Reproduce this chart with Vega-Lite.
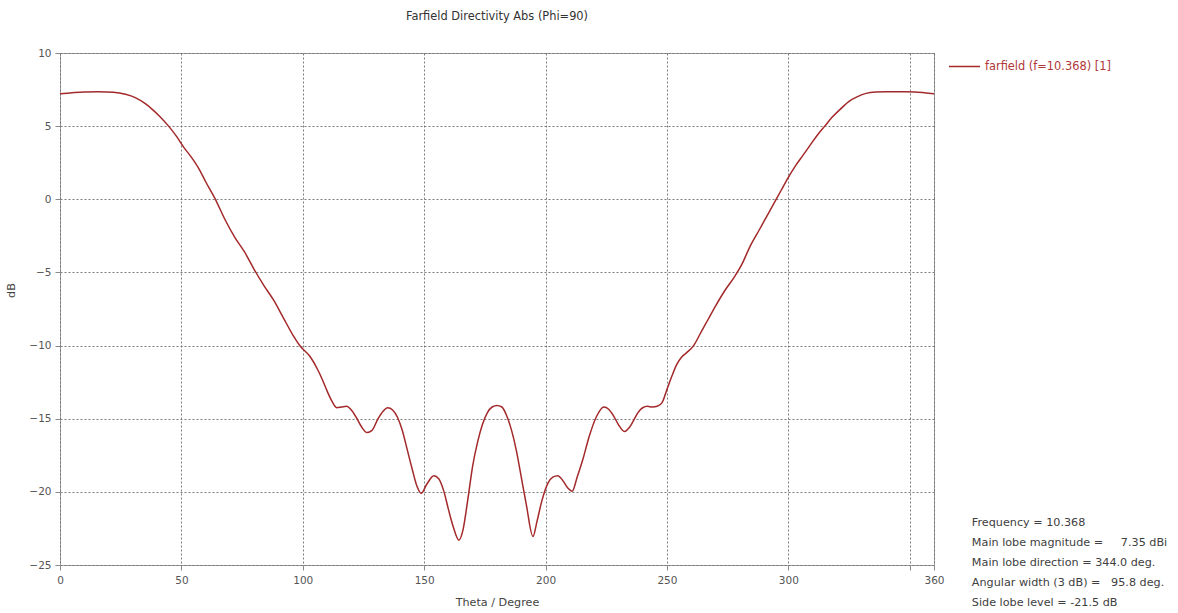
{
  "$schema": "https://vega.github.io/schema/vega-lite/v6.json",
  "width": 874,
  "height": 512,
  "autosize": {"type": "none"},
  "padding": {"left": 60, "top": 53, "right": 244, "bottom": 48},
  "background": "#ffffff",
  "title": {
    "text": "Farfield Directivity Abs (Phi=90)",
    "font": "DejaVu Sans",
    "fontSize": 11.4,
    "fontWeight": "normal",
    "color": "#333333",
    "anchor": "middle",
    "offset": 26
  },
  "layer": [
    {
      "data": {
        "values": [
          {"theta": 0, "dB": 7.22}, {"theta": 5, "dB": 7.29}, {"theta": 10, "dB": 7.34},
          {"theta": 16, "dB": 7.35}, {"theta": 22, "dB": 7.32}, {"theta": 27, "dB": 7.18},
          {"theta": 31, "dB": 6.95}, {"theta": 35, "dB": 6.55}, {"theta": 38, "dB": 6.15},
          {"theta": 41, "dB": 5.68}, {"theta": 45, "dB": 4.95}, {"theta": 48, "dB": 4.3},
          {"theta": 51, "dB": 3.55}, {"theta": 54, "dB": 2.9}, {"theta": 57, "dB": 2.15},
          {"theta": 60, "dB": 1.2}, {"theta": 64, "dB": 0.0}, {"theta": 68, "dB": -1.4},
          {"theta": 72, "dB": -2.6}, {"theta": 76, "dB": -3.6}, {"theta": 80, "dB": -4.8},
          {"theta": 84, "dB": -5.9}, {"theta": 88, "dB": -6.9}, {"theta": 92, "dB": -8.1},
          {"theta": 96, "dB": -9.3}, {"theta": 99, "dB": -10.05}, {"theta": 103, "dB": -10.75},
          {"theta": 106, "dB": -11.6}, {"theta": 108, "dB": -12.3}, {"theta": 110, "dB": -13.1},
          {"theta": 112, "dB": -13.8}, {"theta": 114, "dB": -14.25}, {"theta": 116, "dB": -14.2},
          {"theta": 118, "dB": -14.15}, {"theta": 120, "dB": -14.4}, {"theta": 122, "dB": -14.9},
          {"theta": 124, "dB": -15.5}, {"theta": 126.5, "dB": -15.95}, {"theta": 128.5, "dB": -15.8},
          {"theta": 131, "dB": -15.0}, {"theta": 133, "dB": -14.5}, {"theta": 135, "dB": -14.25},
          {"theta": 137, "dB": -14.4}, {"theta": 139, "dB": -14.9}, {"theta": 141, "dB": -15.8},
          {"theta": 143, "dB": -17.1}, {"theta": 145, "dB": -18.4}, {"theta": 147, "dB": -19.6},
          {"theta": 148.8, "dB": -20.1}, {"theta": 151, "dB": -19.5}, {"theta": 154, "dB": -18.9},
          {"theta": 156, "dB": -19.1}, {"theta": 158, "dB": -19.9}, {"theta": 160, "dB": -21.2},
          {"theta": 162, "dB": -22.4}, {"theta": 164.3, "dB": -23.3}, {"theta": 166, "dB": -22.6},
          {"theta": 168, "dB": -20.5}, {"theta": 170, "dB": -18.2}, {"theta": 172, "dB": -16.6},
          {"theta": 174, "dB": -15.4}, {"theta": 176, "dB": -14.6}, {"theta": 178, "dB": -14.2},
          {"theta": 180, "dB": -14.1}, {"theta": 182, "dB": -14.2}, {"theta": 184, "dB": -14.8},
          {"theta": 186, "dB": -15.8}, {"theta": 188, "dB": -17.2}, {"theta": 190, "dB": -19.0},
          {"theta": 192, "dB": -20.8}, {"theta": 194.8, "dB": -23.05}, {"theta": 196.5, "dB": -22.0},
          {"theta": 198.5, "dB": -20.6}, {"theta": 201, "dB": -19.4}, {"theta": 203, "dB": -19.0},
          {"theta": 205, "dB": -18.9}, {"theta": 207, "dB": -19.2}, {"theta": 209, "dB": -19.7},
          {"theta": 211, "dB": -19.95}, {"theta": 213, "dB": -19.0}, {"theta": 215.5, "dB": -17.7},
          {"theta": 218, "dB": -16.2}, {"theta": 221, "dB": -14.85}, {"theta": 224, "dB": -14.2},
          {"theta": 226, "dB": -14.35}, {"theta": 228, "dB": -14.8}, {"theta": 230, "dB": -15.4},
          {"theta": 232.5, "dB": -15.87}, {"theta": 234.5, "dB": -15.6}, {"theta": 236, "dB": -15.2},
          {"theta": 238, "dB": -14.6}, {"theta": 240, "dB": -14.25}, {"theta": 242, "dB": -14.15},
          {"theta": 244, "dB": -14.2}, {"theta": 246, "dB": -14.15}, {"theta": 248, "dB": -13.9},
          {"theta": 250, "dB": -13.0}, {"theta": 252, "dB": -12.1}, {"theta": 254, "dB": -11.3},
          {"theta": 256, "dB": -10.8}, {"theta": 258, "dB": -10.5}, {"theta": 261, "dB": -10.0},
          {"theta": 264, "dB": -9.1}, {"theta": 267, "dB": -8.2}, {"theta": 270, "dB": -7.3},
          {"theta": 274, "dB": -6.2}, {"theta": 278, "dB": -5.25}, {"theta": 281, "dB": -4.4},
          {"theta": 284, "dB": -3.3}, {"theta": 288, "dB": -2.1}, {"theta": 291, "dB": -1.2},
          {"theta": 294, "dB": -0.3}, {"theta": 297, "dB": 0.6}, {"theta": 300, "dB": 1.5},
          {"theta": 303, "dB": 2.3}, {"theta": 306, "dB": 3.0}, {"theta": 309, "dB": 3.7},
          {"theta": 312, "dB": 4.4}, {"theta": 315, "dB": 5.0}, {"theta": 318, "dB": 5.6},
          {"theta": 322, "dB": 6.25}, {"theta": 325, "dB": 6.7}, {"theta": 328.5, "dB": 7.02},
          {"theta": 332, "dB": 7.24}, {"theta": 336, "dB": 7.33}, {"theta": 340, "dB": 7.35},
          {"theta": 344, "dB": 7.35}, {"theta": 348, "dB": 7.35}, {"theta": 352, "dB": 7.34},
          {"theta": 356, "dB": 7.29}, {"theta": 360, "dB": 7.22}
        ]
      },
      "mark": {"type": "line", "interpolate": "monotone", "strokeWidth": 1.5, "clip": true},
      "encoding": {
        "x": {
          "field": "theta",
          "type": "quantitative",
          "scale": {"domain": [0, 360], "nice": false, "zero": false},
          "axis": {
            "title": "Theta / Degree",
            "values": [0, 50, 100, 150, 200, 250, 300, 350, 360],
            "labelExpr": "datum.value == 350 ? '' : datum.label",
            "format": "d"
          }
        },
        "y": {
          "field": "dB",
          "type": "quantitative",
          "scale": {"domain": [-25, 10], "nice": false, "zero": false},
          "axis": {
            "title": "dB",
            "values": [-25, -20, -15, -10, -5, 0, 5, 10],
            "titleX": -44,
            "titleY": 237,
            "titleAngle": -90
          }
        },
        "color": {
          "datum": "farfield (f=10.368) [1]",
          "type": "nominal",
          "scale": {"range": ["#a3292b"]},
          "legend": {
            "title": null,
            "orient": "none",
            "legendX": 888,
            "legendY": -3,
            "padding": 0,
            "symbolType": "stroke",
            "symbolSize": 960,
            "symbolStrokeWidth": 1.5,
            "labelOffset": 4,
            "labelFont": "DejaVu Sans",
            "labelFontSize": 11.4,
            "labelColor": "#b0383a",
            "labelLimit": 300
          }
        }
      }
    },
    {
      "data": {
        "values": [
          {"note": [
            "Frequency = 10.368",
            "Main lobe magnitude =\u00a0\u00a0\u00a0\u00a0 7.35 dBi",
            "Main lobe direction = 344.0 deg.",
            "Angular width (3 dB) =\u00a0\u00a0 95.8 deg.",
            "Side lobe level = -21.5 dB"
          ]}
        ]
      },
      "mark": {
        "type": "text",
        "align": "left",
        "baseline": "middle",
        "font": "DejaVu Sans",
        "fontSize": 11.2,
        "lineHeight": 20,
        "color": "#404040"
      },
      "encoding": {
        "x": {"datum": 375.6, "type": "quantitative"},
        "y": {"datum": -22.1, "type": "quantitative"},
        "text": {"field": "note", "type": "nominal"}
      }
    }
  ],
  "config": {
    "view": {"stroke": "#a4a4a4", "strokeWidth": 1},
    "axis": {
      "domain": false,
      "grid": true,
      "gridColor": "#6e6e6e",
      "gridDash": [2, 2],
      "gridWidth": 1,
      "gridOpacity": 0.9,
      "ticks": true,
      "tickColor": "#8a8a8a",
      "tickSize": 5,
      "labelFont": "DejaVu Sans",
      "labelFontSize": 10.5,
      "labelColor": "#555555",
      "labelPadding": 4,
      "titleFont": "DejaVu Sans",
      "titleFontSize": 11.2,
      "titleFontWeight": "normal",
      "titleColor": "#444444"
    },
    "axisX": {"titlePadding": 11, "labelPadding": 5, "labelFlush": false},
    "axisY": {"labelPadding": 4}
  }
}
